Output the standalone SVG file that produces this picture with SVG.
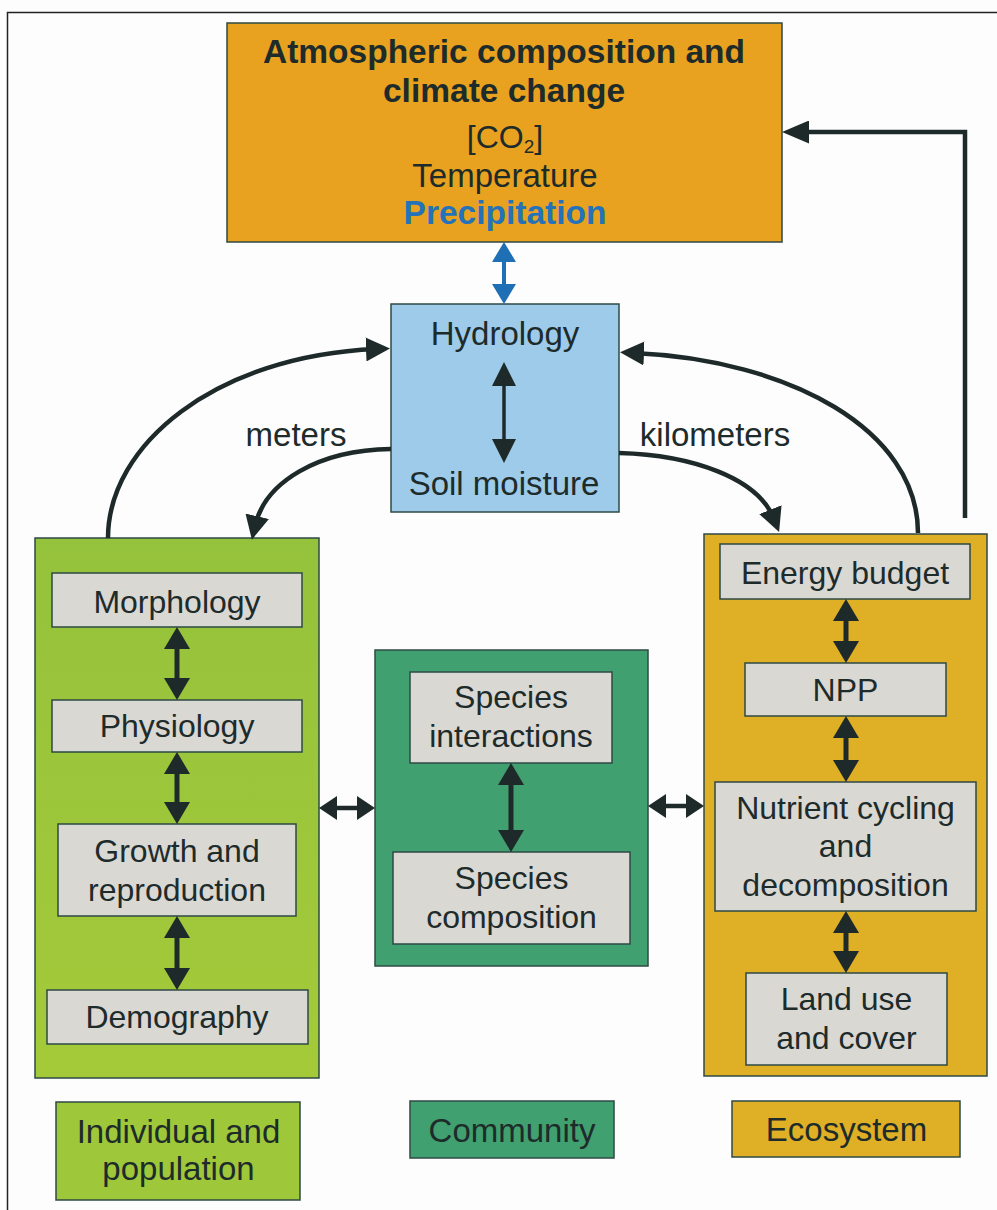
<svg xmlns="http://www.w3.org/2000/svg" width="997" height="1210" viewBox="0 0 997 1210">
<style>
  text { font-family: "Liberation Sans", Arial, Helvetica, sans-serif; fill: #1e2b2b; text-anchor: middle; }
  .t32 { font-size: 32px; }
  .t33 { font-size: 33px; }
  .bold { font-weight: bold; font-size: 33.5px; }
  .box { stroke: #2e4a45; stroke-width: 1.5; }
  .inner { fill: #dad8d3; stroke: #2e4a45; stroke-width: 1.5; }
  .arr { stroke: #1e2a2a; fill: none; }
</style>
<defs>
  <linearGradient id="gGreen" x1="0" y1="0" x2="0" y2="1">
    <stop offset="0" stop-color="#95c23c"/>
    <stop offset="1" stop-color="#a4ca39"/>
  </linearGradient>
  <marker id="m1" markerUnits="userSpaceOnUse" markerWidth="22" markerHeight="26" refX="10" refY="13" orient="auto-start-reverse">
    <path d="M0,0 L22,13 L0,26 z" fill="#1e2a2a"/>
  </marker>
  <marker id="m2" markerUnits="userSpaceOnUse" markerWidth="18" markerHeight="24" refX="8" refY="12" orient="auto-start-reverse">
    <path d="M0,0 L18,12 L0,24 z" fill="#1e2a2a"/>
  </marker>
  <marker id="m3" markerUnits="userSpaceOnUse" markerWidth="24" markerHeight="24" refX="10" refY="12" orient="auto-start-reverse">
    <path d="M0,0 L24,12 L0,24 z" fill="#1e2a2a"/>
  </marker>
  <marker id="m4" markerUnits="userSpaceOnUse" markerWidth="27" markerHeight="23" refX="12" refY="11.5" orient="auto-start-reverse">
    <path d="M0,0 L27,11.5 L0,23 z" fill="#1e2a2a"/>
  </marker>
  <marker id="mb" markerUnits="userSpaceOnUse" markerWidth="20" markerHeight="24" refX="8" refY="12" orient="auto-start-reverse">
    <path d="M0,0 L20,12 L0,24 z" fill="#1f6fb5"/>
  </marker>
</defs>

<rect x="0" y="0" width="997" height="1210" fill="#fdfdfd"/>
<path d="M7.5,1210 V12.5 H997" fill="none" stroke="#222" stroke-width="1.5"/>

<g id="atmosphere">
  <rect class="box" x="227" y="23" width="555" height="219" fill="#e8a21f"/>
  <text class="bold" x="504" y="63">Atmospheric composition and</text>
  <text class="bold" x="504" y="102">climate change</text>
  <text class="t32" x="505" y="148">[CO<tspan font-size="19" dy="5">2</tspan><tspan dy="-5">]</tspan></text>
  <text class="t33" x="505" y="187">Temperature</text>
  <text class="bold" x="505" y="224" style="fill:#2472b9">Precipitation</text>
</g>

<g id="hydrology">
  <rect class="box" x="391" y="304" width="228" height="208" fill="#9dcbe9"/>
  <text class="t33" x="505" y="345">Hydrology</text>
  <text class="t33" x="504" y="495">Soil moisture</text>
</g>

<g id="individual">
  <rect class="box" x="35" y="538" width="284" height="540" fill="url(#gGreen)"/>
  <g id="morphology"><rect class="inner" x="52" y="573" width="250" height="54"/><text class="t32" x="177" y="613">Morphology</text></g>
  <g id="physiology"><rect class="inner" x="52" y="700" width="250" height="52"/><text class="t32" x="177" y="737">Physiology</text></g>
  <g id="growth"><rect class="inner" x="58" y="824" width="238" height="92"/><text class="t32" x="177" y="862">Growth and</text><text class="t32" x="177" y="901">reproduction</text></g>
  <g id="demography"><rect class="inner" x="47" y="990" width="261" height="54"/><text class="t32" x="177" y="1028">Demography</text></g>
</g>

<g id="community">
  <rect class="box" x="375" y="650" width="273" height="316" fill="#41a06f"/>
  <g id="interactions"><rect class="inner" x="410" y="672" width="202" height="91"/><text class="t32" x="511" y="708">Species</text><text class="t32" x="511" y="747">interactions</text></g>
  <g id="composition"><rect class="inner" x="393" y="852" width="237" height="92"/><text class="t32" x="511.5" y="889">Species</text><text class="t32" x="511.5" y="928">composition</text></g>
</g>

<g id="ecosystem">
  <rect class="box" x="704" y="534" width="283" height="542" fill="#dfaf25"/>
  <g id="energy"><rect class="inner" x="720" y="544" width="250" height="55"/><text class="t32" x="845" y="584">Energy budget</text></g>
  <g id="npp"><rect class="inner" x="745" y="663" width="201" height="53"/><text class="t32" x="845.5" y="701">NPP</text></g>
  <g id="nutrient"><rect class="inner" x="715" y="782" width="261" height="129"/><text class="t32" x="845.5" y="819">Nutrient cycling</text><text class="t32" x="845.5" y="857">and</text><text class="t32" x="845.5" y="896">decomposition</text></g>
  <g id="landuse"><rect class="inner" x="746" y="973" width="201" height="92"/><text class="t32" x="846.5" y="1010">Land use</text><text class="t32" x="846.5" y="1049">and cover</text></g>
</g>

<g id="legend">
  <g id="leg-individual"><rect class="box" x="56" y="1102" width="244" height="98" fill="#9fc73a"/><text class="t33" x="178.5" y="1143">Individual and</text><text class="t33" x="178.5" y="1180">population</text></g>
  <g id="leg-community"><rect class="box" x="410" y="1101" width="204" height="57" fill="#41a06f"/><text class="t33" x="512" y="1142">Community</text></g>
  <g id="leg-ecosystem"><rect class="box" x="732" y="1101" width="228" height="56" fill="#dfaf25"/><text class="t33" x="846.5" y="1141">Ecosystem</text></g>
</g>

<g id="labels">
  <text class="t33" x="296" y="446">meters</text>
  <text class="t33" x="715" y="446">kilometers</text>
</g>

<g id="connectors">
  <line x1="504" y1="254" x2="504" y2="292" stroke="#1f6fb5" stroke-width="4" marker-start="url(#mb)" marker-end="url(#mb)"/>
  <line class="arr" x1="504" y1="376" x2="504" y2="449" stroke-width="3.5" marker-start="url(#m3)" marker-end="url(#m3)"/>
  <path class="arr" d="M965,518 V132 H797" stroke-width="4.5" marker-end="url(#m4)"/>
  <path class="arr" d="M108,538 C108,445 215,356 376,349" stroke-width="4.5" marker-end="url(#m3)"/>
  <path class="arr" d="M391,449 C318,450 265,482 255,526" stroke-width="4.5" marker-end="url(#m3)"/>
  <path class="arr" d="M918,533 C918,430 790,360 634,353" stroke-width="4.5" marker-end="url(#m3)"/>
  <path class="arr" d="M619,453 C692,455 758,478 774,519" stroke-width="4.5" marker-end="url(#m3)"/>
  <line class="arr" x1="177" y1="639" x2="177" y2="688" stroke-width="5" marker-start="url(#m1)" marker-end="url(#m1)"/>
  <line class="arr" x1="177" y1="764" x2="177" y2="812" stroke-width="5" marker-start="url(#m1)" marker-end="url(#m1)"/>
  <line class="arr" x1="177" y1="928" x2="177" y2="978" stroke-width="5" marker-start="url(#m1)" marker-end="url(#m1)"/>
  <line class="arr" x1="511" y1="775" x2="511" y2="840" stroke-width="5" marker-start="url(#m1)" marker-end="url(#m1)"/>
  <line class="arr" x1="846" y1="611" x2="846" y2="651" stroke-width="5" marker-start="url(#m1)" marker-end="url(#m1)"/>
  <line class="arr" x1="846" y1="728" x2="846" y2="770" stroke-width="5" marker-start="url(#m1)" marker-end="url(#m1)"/>
  <line class="arr" x1="846" y1="923" x2="846" y2="961" stroke-width="5" marker-start="url(#m1)" marker-end="url(#m1)"/>
  <line class="arr" x1="329" y1="808" x2="365" y2="808" stroke-width="4.5" marker-start="url(#m2)" marker-end="url(#m2)"/>
  <line class="arr" x1="658" y1="806" x2="694" y2="806" stroke-width="4.5" marker-start="url(#m2)" marker-end="url(#m2)"/>
</g>
</svg>
